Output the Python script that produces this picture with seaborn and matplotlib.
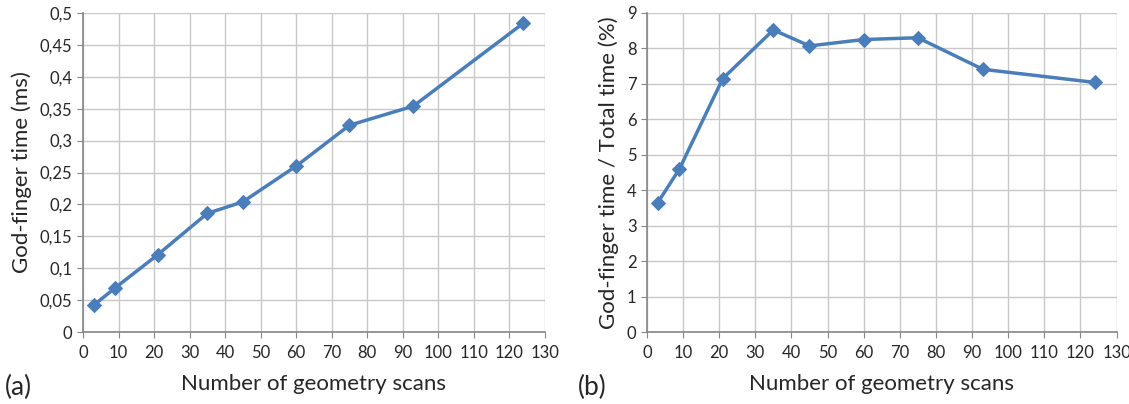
import seaborn as sns
import matplotlib.pyplot as plt
from matplotlib.ticker import FuncFormatter

# data
scans = [3, 9, 21, 35, 45, 60, 75, 93, 124]
gf_time_ms = [0.042, 0.069, 0.121, 0.186, 0.204, 0.260, 0.324, 0.354, 0.484]
gf_ratio_pct = [3.65, 4.60, 7.15, 8.52, 8.07, 8.25, 8.30, 7.41, 7.04]

xticks = list(range(0, 131, 10))
yticks_a = [0, 0.05, 0.1, 0.15, 0.2, 0.25, 0.3, 0.35, 0.4, 0.45, 0.5]
yticks_b = list(range(0, 10))

sns.set_style("whitegrid")
plt.rcParams['font.family'] = ['Lato', 'DejaVu Sans']

blue = "#4A7EBB"
grid_col = "#C8C8C8"
spine_col = "#868686"

fig = plt.figure(figsize=(11.29, 4.04), dpi=100)
ax1 = fig.add_axes([0.0735, 0.178, 0.409, 0.79])
ax2 = fig.add_axes([0.573, 0.178, 0.416, 0.79])


def comma(v, pos):
    s = ('%g' % v).replace('.', ',')
    return s


for ax, y, yt, ylab in [(ax1, gf_time_ms, yticks_a, "God-finger time (ms)"),
                        (ax2, gf_ratio_pct, yticks_b, "God-finger time / Total time (%)")]:
    sns.lineplot(x=scans, y=y, ax=ax, color=blue, linewidth=2.5, marker="D",
                 markersize=7, markeredgecolor=blue)
    ax.set_xlim(0, 130)
    ax.set_ylim(yt[0], yt[-1])
    ax.set_xticks(xticks)
    ax.set_yticks(yt)
    ax.yaxis.set_major_formatter(FuncFormatter(comma))
    ax.grid(True, color=grid_col, linewidth=1)
    for side in ['top', 'right']:
        ax.spines[side].set_visible(False)
    for side in ['left', 'bottom']:
        ax.spines[side].set_color(spine_col)
        ax.spines[side].set_linewidth(1.2)
    ax.tick_params(axis='both', labelsize=12, length=4, color=spine_col,
                   direction='out', left=True, bottom=True)
    ax.tick_params(axis='x', pad=5)
    ax.set_xlabel("Number of geometry scans", fontsize=16, labelpad=10)
    ax.set_ylabel(ylab, fontsize=16, labelpad=6)

fig.text(0.004, 0.022, "(a)", fontsize=19)
fig.text(0.512, 0.022, "(b)", fontsize=19)

fig.savefig("out.png", dpi=100)
